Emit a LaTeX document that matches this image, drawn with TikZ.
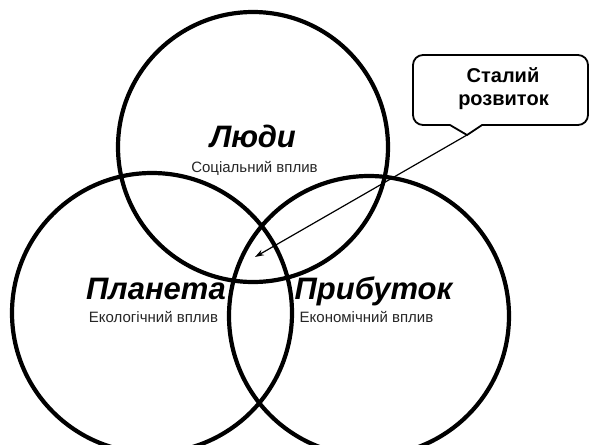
\documentclass[tikz,border=0pt]{standalone}
\usepackage{fontspec}
\setmainfont{Liberation Sans}
\usetikzlibrary{arrows.meta}
\tikzset{
  ring/.style={draw=black, line width=4.2pt},
  title/.style={font=\fontsize{31}{33}\selectfont\bfseries\itshape, inner sep=0pt, anchor=base},
  sub/.style={font=\fontsize{15}{17}\selectfont, text=black!85, inner sep=0pt, anchor=base},
  calltext/.style={font=\fontsize{20}{23.5}\selectfont\bfseries, inner sep=0pt, anchor=base},
  callbox/.style={draw=black, line width=1.8pt, fill=white},
  pointer/.style={draw=black, line width=1.2pt, -{Stealth[length=9pt,width=6pt]}}
}
\begin{document}
\begin{tikzpicture}[x=1pt,y=-1pt]
  \clip (0,0) rectangle (590,445);
  \fill[white] (0,0) rectangle (590,445);
  % circles
  \draw[ring] (253,147) circle (135);
  \draw[ring] (152,313) circle (140);
  \draw[ring] (369,316) circle (140);
  % labels
  \node[title] (people) at (253,147) {Люди};
  \node[sub] (peoplesub) at (254.5,172) {Соціальний вплив};
  \node[title] (planet) at (156,299) {Планета};
  \node[sub] (planetsub) at (153.5,322) {Екологічний вплив};
  \node[title] (profit) at (373.5,299) {Прибуток};
  \node[sub] (profitsub) at (366.5,322) {Економічний вплив};
  % callout
  \coordinate (tip) at (467,135);
  \coordinate (target) at (255,257);
  \draw[callbox] (tip) -- (450,125) [rounded corners=10pt] -- (413,125) -- (413,55) -- (588,55) -- (588,125) [sharp corners] -- (482,125) -- cycle;
  \node[calltext] (callout) at (503,82) {Сталий};
  \node[calltext] (callout2) at (503.5,105) {розвиток};
  \draw[pointer] (tip) -- (target);
\end{tikzpicture}
\end{document}
